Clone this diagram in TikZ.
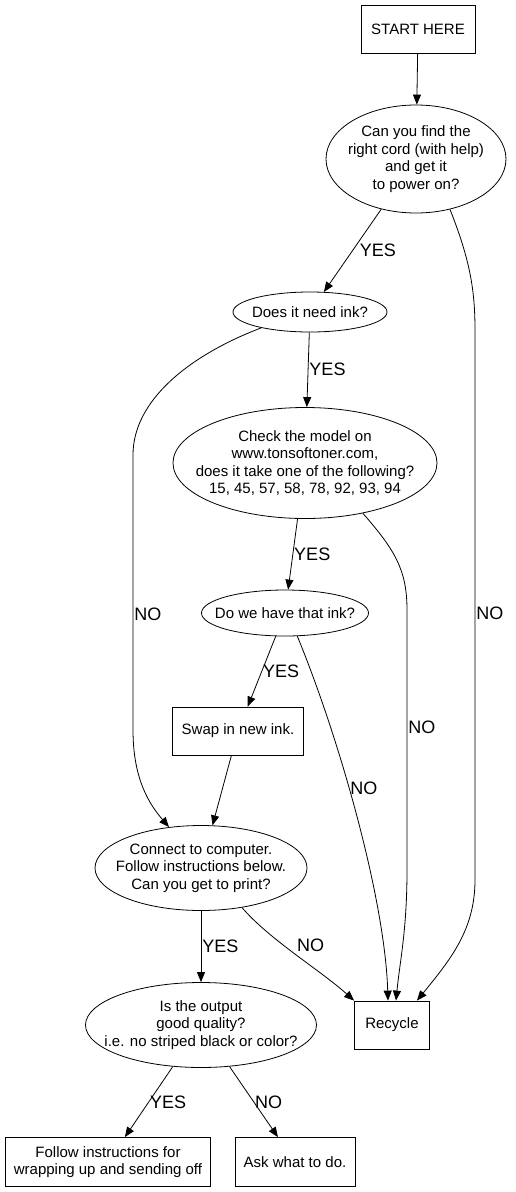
\documentclass[tikz,border=0pt]{standalone}
\usepackage{fontspec}
\setmainfont{Liberation Sans}
\usetikzlibrary{shapes.geometric, arrows.meta, positioning, calc}

\begin{document}
\begin{tikzpicture}[
  x=1pt, y=-1pt,
  every node/.style={font=\fontsize{15}{17.5}\selectfont},
  flow/.style={draw, line width=0.8pt, -{Triangle[length=10pt, width=8pt]}},
  box/.style={rectangle, draw, line width=0.8pt, minimum height=48pt, inner sep=0pt, align=center},
  decision/.style={ellipse, draw, line width=0.8pt, inner xsep=-60pt, inner ysep=-30pt, align=center},
  lbl/.style={font=\fontsize{18}{20}\selectfont, anchor=west, inner sep=1pt},
]
  \useasboundingbox (0,0) rectangle (516,1192);

  \node[box, minimum width=114pt] (start) at (418,29) {START HERE};
  \node[decision, minimum width=180pt, minimum height=108pt] (cord) at (416,159)
    {Can you find the\\right cord (with help)\\and get it\\to power on?};
  \node[decision, minimum width=154pt, minimum height=40pt] (ink) at (310,312) {Does it need ink?};
  \node[decision, minimum width=264pt, minimum height=111pt] (model) at (305,463)
    {Check the model on\\www.tonsoftoner.com,\\does it take one of the following?\\15, 45, 57, 58, 78, 92, 93, 94};
  \node[decision, minimum width=167pt, minimum height=46pt] (have) at (285,613) {Do we have that ink?};
  \node[box, minimum width=131pt] (swap) at (238,731) {Swap in new ink.};
  \node[decision, minimum width=212pt, minimum height=85pt] (connect) at (201,868)
    {Connect to computer.\\Follow instructions below.\\Can you get to print?};
  \node[box, minimum width=75pt] (recycle) at (392,1025) {Recycle};
  \node[decision, minimum width=231pt, minimum height=85pt] (quality) at (201,1025)
    {Is the output\\good quality?\\i.e. no striped black or color?};
  \node[box, minimum width=205pt, minimum height=49pt] (follow) at (108,1162)
    {Follow instructions for\\wrapping up and sending off};
  \node[box, minimum width=120pt, minimum height=49pt] (ask) at (295,1162) {Ask what to do.};

  \draw[flow] (start) -- (cord);
  \draw[flow] (cord) -- node[lbl, xshift=6pt] {YES} (ink);
  \draw[flow] (cord.-56) .. controls (470,260) and (475,290) .. (475,330)
    -- node[lbl, pos=.515] {NO} (475,880)
    .. controls (475,930) and (450,960) .. ([xshift=25pt]recycle.north);
  \draw[flow] (ink) -- node[lbl] {YES} (model);
  \draw[flow] (ink.-162) .. controls (190,355) and (133,400) .. (133,455)
    -- node[lbl, pos=.58] {NO} (133,730)
    .. controls (133,780) and (150,805) .. (connect.128);
  \draw[flow] (model) -- node[lbl] {YES} (have);
  \draw[flow] (model.-41) .. controls (395,550) and (407,570) .. (407,610)
    -- node[lbl, pos=.45] {NO} (407,870)
    .. controls (407,930) and (400,960) .. ([xshift=4pt]recycle.north);
  \draw[flow] (have) -- node[lbl] {YES} (swap);
  \draw[flow] (have.-62) .. controls (340,740) and (385,900) .. node[lbl, pos=.42] {NO} ([xshift=-4pt]recycle.north);
  \draw[flow] (swap) -- (connect);
  \draw[flow] (connect) -- node[lbl] {YES} (quality);
  \draw[flow] (connect.-44) .. controls (270,940) and (320,970) .. node[lbl, yshift=9pt] {NO} (recycle.north west);
  \draw[flow] (quality) -- node[lbl] {YES} (follow);
  \draw[flow] (quality) -- node[lbl] {NO} (ask);
\end{tikzpicture}
\end{document}
